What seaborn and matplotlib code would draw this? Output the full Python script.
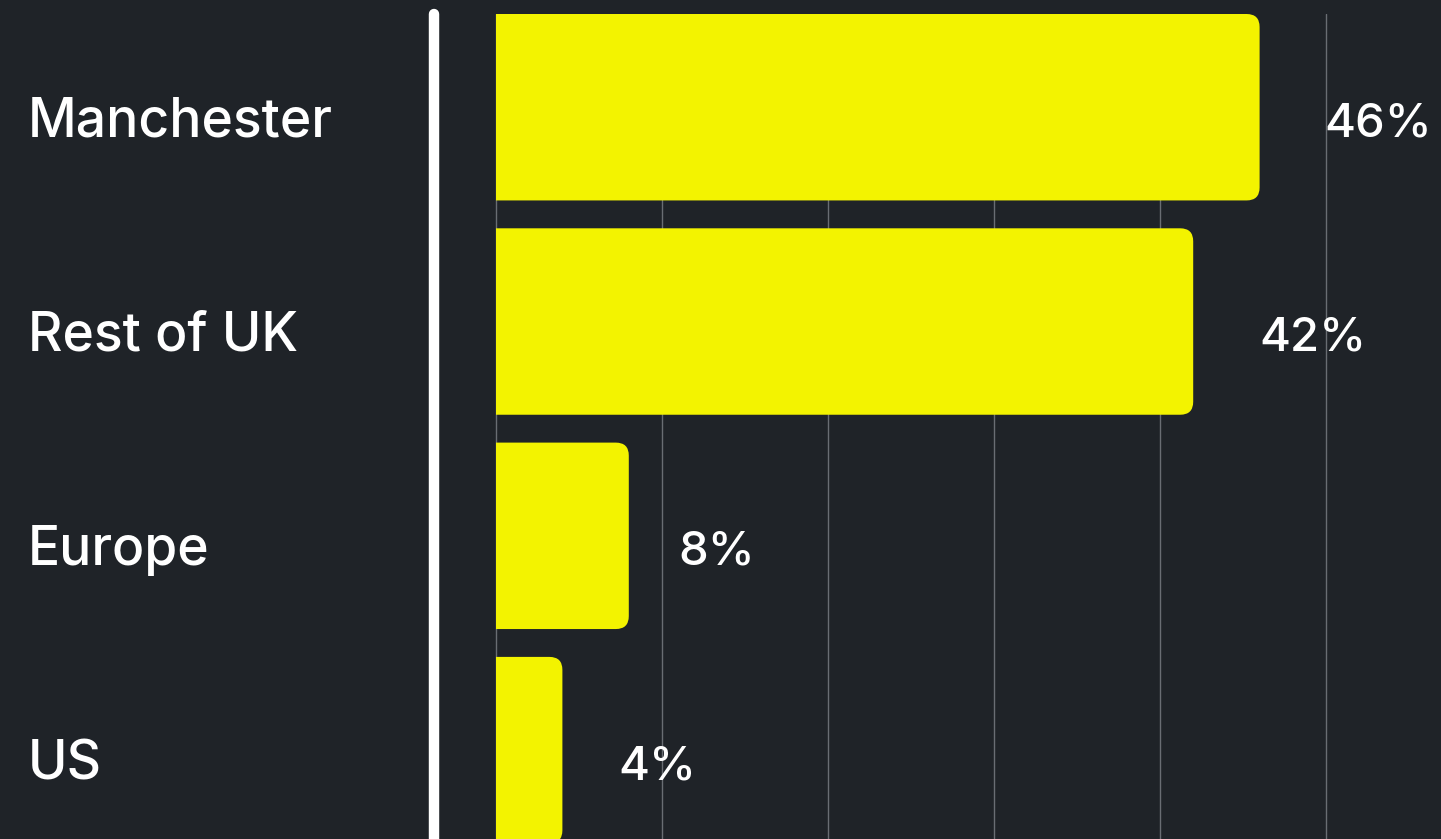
import matplotlib
matplotlib.use("Agg")
import matplotlib.pyplot as plt
import seaborn as sns
import pandas as pd
from matplotlib.patches import FancyBboxPatch, Rectangle

categories = ["Manchester", "Rest of UK", "Europe", "US"]
values = [46, 42, 8, 4]
value_labels = ["46%", "42%", "8%", "4%"]

BG = "#1f2328"
BAR = "#f3f300"
W, H = 1441, 839
DPI = 100

sns.set_theme(style="dark")
plt.rcParams["font.family"] = ["Inter", "DejaVu Sans"]

fig = plt.figure(figsize=(W / DPI, H / DPI), dpi=DPI, facecolor=BG)
ax_left = 429 / W
ax_top = 1 - 14 / H
ax = fig.add_axes([ax_left, 0, 1 - ax_left, ax_top])
ax.set_facecolor("none")

df = pd.DataFrame({"region": categories, "share": values})
sns.barplot(data=df, x="share", y="region", orient="h", color=BAR,
            width=0.87, ax=ax, saturation=1, zorder=3)

px_per_unit_x = 16.6
px_per_unit_y = 214.3
x0 = -(496 - 429) / px_per_unit_x
x1 = x0 + (W - 429) / px_per_unit_x
ax.set_xlim(x0, x1)
y_top = -0.435
y_bottom = y_top + (H - 14) / px_per_unit_y
ax.set_ylim(y_bottom, y_top)

# rounded right corners, square left corners (clip)
r_px = 13
for p in list(ax.patches):
    x, y = p.get_x(), p.get_y()
    w, h = p.get_width(), p.get_height()
    p.set_visible(False)
    ext = 2.0
    fb = FancyBboxPatch((x - ext, y), w + ext, h,
                        boxstyle=f"round,pad=0,rounding_size={r_px / px_per_unit_x}",
                        mutation_aspect=px_per_unit_x / px_per_unit_y,
                        facecolor=BAR, edgecolor="none", zorder=3)
    ax.add_patch(fb)
    clip = Rectangle((x, y - 0.1), w + 1, h + 0.2, transform=ax.transData)
    fb.set_clip_path(clip)

# grid lines
for gx in range(0, 60, 10):
    ax.axvline(gx, color="#8a8e94", lw=1.0, alpha=0.7, zorder=1)

# white separator line
ax.axvline(x0 + 5 / px_per_unit_x, ymin=0, ymax=1, color="white", lw=7.5,
           solid_capstyle="round", zorder=4, clip_on=False)

# value labels
base_off = (136 - 107) / px_per_unit_y
offsets = [3.9, 4.0, 3.0, 3.35]
for i, (v, lab) in enumerate(zip(values, value_labels)):
    ax.text(v + offsets[i], i + base_off, lab, color="white", fontsize=34,
            fontweight="medium", va="baseline", ha="left", zorder=5)

# category labels
ax.set_yticks(range(len(categories)))
ax.set_yticklabels([])
for i, c in enumerate(categories):
    ax.annotate(c, xy=(0, i + base_off), xycoords=("axes fraction", "data"),
                xytext=(-(429 - 28), 0), textcoords="offset pixels",
                color="white", fontsize=38.5, fontweight="medium",
                va="baseline", ha="left")
ax.tick_params(axis="y", length=0)
ax.set_xticks([])
ax.set_xlabel("")
ax.set_ylabel("")
for s in ax.spines.values():
    s.set_visible(False)
ax.grid(False)

fig.savefig("out.png", dpi=DPI, facecolor=BG)
